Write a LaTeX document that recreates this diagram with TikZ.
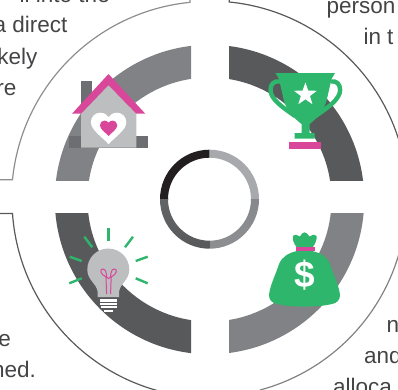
\documentclass[tikz,border=0pt]{standalone}
\usepackage{fontspec}
\setmainfont{Liberation Sans}
\usepackage{tikz}
\usetikzlibrary{shapes.geometric}

\definecolor{midgrey}{HTML}{808285}
\definecolor{darkgrey}{HTML}{58595B}
\definecolor{lightgrey}{HTML}{BCBEC0}
\definecolor{chimneygrey}{HTML}{6D6E71}
\definecolor{ringblack}{HTML}{231F20}
\definecolor{ringgrey}{HTML}{A7A9AC}
\definecolor{leafgreen}{HTML}{2EB76C}
\definecolor{hotpink}{HTML}{D9479B}
\definecolor{textgrey}{HTML}{444446}

\newcommand{\heartpath}{(0,16) .. controls (-6,9) and (-17.7,2) .. (-17.7,-6) .. controls (-17.7,-12) and (-13,-15.5) .. (-8.5,-15.5) .. controls (-4.5,-15.5) and (-1.5,-13.5) .. (0,-11) .. controls (1.5,-13.5) and (4.5,-15.5) .. (8.5,-15.5) .. controls (13,-15.5) and (17.7,-12) .. (17.7,-6) .. controls (17.7,2) and (6,9) .. (0,16) -- cycle}

\tikzset{
    txt/.style={font=\fontsize{22.5}{24}\selectfont, text=textgrey, inner sep=0pt},
    leftline/.style={txt, anchor=base east},
    rightline/.style={txt, anchor=base west},
    ray/.style={leafgreen, line width=2.4pt},
    frame/.style={line width=1.2pt}
}

\begin{document}
\begin{tikzpicture}[x=1pt,y=-1pt]
    \useasboundingbox (0,0) rectangle (398,389);
    \clip (0,0) rectangle (398,389);

    % the four thick arcs
    \foreach \xa/\ya/\xb/\yb/\col in {0/0/191/180/midgrey, 229/0/398/180/darkgrey, 0/213.3/191/389/darkgrey, 229/213.3/398/389/midgrey} {
        \begin{scope}
            \clip (\xa,\ya) rectangle (\xb,\yb);
            \fill[\col, even odd rule] (209.5,199.5) circle (154.7) (209.5,199.5) circle (122);
        \end{scope}
    }

    % outer frame
    \draw[frame, color=midgrey!90] (0,179.7) -- (12.5,179.7) arc[start angle=185.7, end angle=264.35, radius=198] -- (190,0);
    \draw[frame, darkgrey] (229.3,0) -- (229.3,2) arc[start angle=275.65, end angle=350, radius=198];
    \draw[frame, darkgrey] (0,213.5) -- (12.5,213.5) arc[start angle=176, end angle=100, radius=198];
    \draw[frame, midgrey] (400,250) arc[start angle=15, end angle=75, radius=198];

    % inner ring
    \begin{scope}
        \clip (150,140) rectangle (209.5,199.2);
        \fill[ringblack, even odd rule] (209.5,199.2) circle (49.5) (209.5,199.2) circle (41.5);
    \end{scope}
    \begin{scope}
        \clip (209.5,140) rectangle (270,199.2);
        \fill[ringgrey, even odd rule] (209.5,199.2) circle (49.5) (209.5,199.2) circle (41.5);
    \end{scope}
    \begin{scope}
        \clip (209.5,199.2) rectangle (270,260);
        \shade[top color=midgrey, bottom color=midgrey!90!white, even odd rule] (209.5,199.2) circle (49.5) (209.5,199.2) circle (41.5);
    \end{scope}
    \begin{scope}
        \clip (150,199.2) rectangle (209.5,260);
        \shade[top color=chimneygrey, bottom color=darkgrey, even odd rule] (209.5,199.2) circle (49.5) (209.5,199.2) circle (41.5);
    \end{scope}

    % house
    \fill[chimneygrey] (81,81) rectangle (92,105);
    \fill[chimneygrey] (69,136) rectangle (148,147.7);
    \fill[lightgrey] (81,147.7) -- (81,113.7) -- (108.5,85) -- (136.3,113.7) -- (136.3,147.7) -- cycle;
    \fill[hotpink] (72,113.7) -- (108.5,74) -- (145.3,113.7) -- (136.3,113.7) -- (108.5,85) -- (81,113.7) -- cycle;
    \begin{scope}[shift={(108.6,128.2)}]
        \fill[white] \heartpath;
        \fill[hotpink, scale=0.49] \heartpath;
    \end{scope}

    % trophy
    \draw[leafgreen, line width=4.4pt] (280,81.5) .. controls (274,80.5) and (270.5,84) .. (270.5,90) .. controls (270.5,99) and (282,107) .. (295,116);
    \draw[leafgreen, line width=4.4pt] (330.6,81.5) .. controls (336.6,80.5) and (340.1,84) .. (340.1,90) .. controls (340.1,99) and (328.6,107) .. (315.6,116);
    \fill[leafgreen] (275.5,73) -- (335,73) -- (331.5,79) -- (326.5,101) .. controls (323,112) and (317,118) .. (309.7,124) -- (309.7,133) -- (314.7,133) -- (314.7,138.7) -- (294.7,138.7) -- (294.7,133) -- (301.5,133) -- (301.5,124) .. controls (294,118) and (287.5,112) .. (284,101) -- (279,79) -- cycle;
    \fill[hotpink] (289,142) rectangle (321,148.7);
    \node[star, star points=5, star point ratio=2.5, fill=white, inner sep=0pt, minimum size=24pt] (trophystar) at (305.4,94.5) {};

    % money bag
    \fill[leafgreen] (297,247.7) .. controls (294,244) and (292,239) .. (293,236) .. controls (295,233.5) and (298,235.5) .. (300,236.5) .. controls (301,234) and (303,232.3) .. (304.5,232.3) .. controls (306,232.3) and (308,234) .. (309.5,236.5) .. controls (311,235.5) and (314,233.5) .. (316.5,236) .. controls (317.5,239) and (315,244) .. (312.5,247.7) -- cycle;
    \fill[leafgreen] (297,251) .. controls (288,253) and (282,257) .. (279,264) .. controls (276,274) and (270,285) .. (269,295) .. controls (269,300) and (272,303) .. (277,304) .. controls (288,306.5) and (298,306.5) .. (304.5,306.5) .. controls (311,306.5) and (321,306.5) .. (332,304) .. controls (337,303) and (340,300) .. (340,295) .. controls (339,285) and (333,274) .. (330,264) .. controls (327,257) and (321,253) .. (312,251) -- cycle;
    \fill[hotpink] (295.5,247.4) rectangle (314.5,251.2);
    \node[font=\fontsize{37}{37}\selectfont\bfseries, text=white, inner sep=0pt] (dollar) at (305,275.5) {\$};

    % light bulb
    \foreach \xa/\ya/\xb/\yb in {108.3/228.3/108.3/241, 84.3/236.7/92.3/247.3, 133/236.7/125/247.3, 69.7/256.7/81.7/261, 147.7/256.7/135.7/261, 69.3/283.3/81.7/278.3, 147.7/283.3/135.7/278.3} {
        \draw[ray] (\xa,\ya) -- (\xb,\yb);
    }
    \fill[lightgrey] (97.5,297) -- (97.5,291) .. controls (96,283) and (87.3,280) .. (87.3,269.5) .. controls (87.3,258) and (96.5,248.5) .. (108.3,248.5) .. controls (120,248.5) and (129.3,258) .. (129.3,269.5) .. controls (129.3,280) and (120.5,283) .. (119.2,291) -- (119.2,297) -- cycle;
    \fill[white] (100,299) rectangle (117.3,301.7);
    \fill[white] (100,302.7) rectangle (117.3,305);
    \fill[white] (100.6,306) rectangle (116.7,308.3);
    \fill[white] (104.3,309.7) rectangle (112.7,312);
    \draw[hotpink, line width=1pt] (106.6,294) -- (106,277) .. controls (100,274) and (99.5,269) .. (103,269) .. controls (106,269) and (106.5,274) .. (106.6,277) .. controls (106.8,279) and (110.4,279) .. (110.6,277) .. controls (110.7,274) and (111.2,269) .. (114.2,269) .. controls (117.7,269) and (117.2,274) .. (111.2,277) -- (110.6,294);

    % text cut off by the frame of the picture
    \node[leftline] (lineone) at (110,2) {ll into the};
    \node[leftline] (linetwo) at (67.7,32.3) {a direct};
    \node[leftline] (linethree) at (37.7,64) {kely};
    \node[leftline] (linefour) at (16.7,95) {re};
    \node[leftline] (linefive) at (11,346.5) {e};
    \node[leftline] (linesix) at (36,377.7) {ned.};
    \node[rightline] (lineseven) at (326.3,13.3) {person};
    \node[rightline] (lineeight) at (363.3,44.3) {in t};
    \node[rightline] (linenine) at (386.3,332.7) {n};
    \node[rightline] (lineten) at (364,363.5) {and};
    \node[rightline] (lineeleven) at (333,394.3) {alloca};
\end{tikzpicture}
\end{document}
